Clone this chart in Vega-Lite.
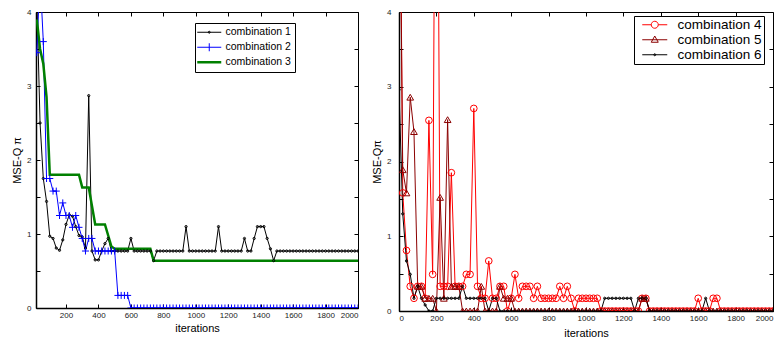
{
  "$schema": "https://vega.github.io/schema/vega-lite/v6.json",
  "padding": {"left": 11, "top": 7, "right": 0, "bottom": 0},
  "spacing": 12,
  "config": {
    "font": "Liberation Sans",
    "view": {"stroke": "black", "strokeWidth": 1},
    "axis": {"grid": false, "domainColor": "black", "domainWidth": 1.5, "tickColor": "black", "tickSize": -4, "labelFontSize": 8, "labelColor": "#222", "labelPadding": 8, "titleFontSize": 11, "titleFontWeight": "normal", "titleColor": "black", "format": "d"},
    "legend": {"strokeColor": "black", "fillColor": "white", "labelColor": "black", "symbolSize": 100}
  },
  "resolve": {"scale": {"color": "independent", "shape": "independent", "size": "independent", "x": "independent", "y": "independent"}, "legend": {"color": "independent"}},
  "datasets": {
    "left": [
      {"x":20,"combination 1":4.2,"combination 2":3.45,"combination 3":3.9},
      {"x":40,"combination 1":2.5,"combination 2":4.5,"combination 3":3.5},
      {"x":60,"combination 1":1.75,"combination 2":3.6,"combination 3":3.3},
      {"x":80,"combination 1":1.44,"combination 2":1.75,"combination 3":2.85},
      {"x":100,"combination 1":0.97,"combination 2":1.75,"combination 3":1.8},
      {"x":120,"combination 1":0.94,"combination 2":1.58,"combination 3":1.8},
      {"x":140,"combination 1":0.81,"combination 2":1.58,"combination 3":1.8},
      {"x":160,"combination 1":0.78,"combination 2":1.25,"combination 3":1.8},
      {"x":180,"combination 1":0.92,"combination 2":1.42,"combination 3":1.8},
      {"x":200,"combination 1":1.13,"combination 2":1.25,"combination 3":1.8},
      {"x":220,"combination 1":1.26,"combination 2":1.25,"combination 3":1.8},
      {"x":240,"combination 1":1.24,"combination 2":1.09,"combination 3":1.8},
      {"x":260,"combination 1":1.1,"combination 2":1.25,"combination 3":1.8},
      {"x":280,"combination 1":0.98,"combination 2":1.09,"combination 3":1.8},
      {"x":300,"combination 1":0.96,"combination 2":0.94,"combination 3":1.63},
      {"x":320,"combination 1":0.81,"combination 2":0.77,"combination 3":1.63},
      {"x":340,"combination 1":2.87,"combination 2":0.94,"combination 3":1.63},
      {"x":360,"combination 1":0.77,"combination 2":0.94,"combination 3":1.38},
      {"x":380,"combination 1":0.65,"combination 2":0.77,"combination 3":1.13},
      {"x":400,"combination 1":0.65,"combination 2":0.77,"combination 3":1.13},
      {"x":420,"combination 1":0.77,"combination 2":0.77,"combination 3":1.13},
      {"x":440,"combination 1":0.87,"combination 2":0.77,"combination 3":1.13},
      {"x":460,"combination 1":0.94,"combination 2":0.77,"combination 3":0.98},
      {"x":480,"combination 1":0.77,"combination 2":0.77,"combination 3":0.83},
      {"x":500,"combination 1":0.77,"combination 2":0.77,"combination 3":0.8},
      {"x":520,"combination 1":0.77,"combination 2":0.17,"combination 3":0.8},
      {"x":540,"combination 1":0.77,"combination 2":0.17,"combination 3":0.8},
      {"x":560,"combination 1":0.77,"combination 2":0.17,"combination 3":0.8},
      {"x":580,"combination 1":0.77,"combination 2":0.17,"combination 3":0.8},
      {"x":600,"combination 1":0.94,"combination 2":0,"combination 3":0.8},
      {"x":620,"combination 1":0.77,"combination 2":0,"combination 3":0.8},
      {"x":640,"combination 1":0.77,"combination 2":0,"combination 3":0.8},
      {"x":660,"combination 1":0.77,"combination 2":0,"combination 3":0.8},
      {"x":680,"combination 1":0.77,"combination 2":0,"combination 3":0.8},
      {"x":700,"combination 1":0.77,"combination 2":0,"combination 3":0.8},
      {"x":720,"combination 1":0.77,"combination 2":0,"combination 3":0.8},
      {"x":740,"combination 1":0.64,"combination 2":0,"combination 3":0.64},
      {"x":760,"combination 1":0.77,"combination 2":0,"combination 3":0.64},
      {"x":780,"combination 1":0.77,"combination 2":0,"combination 3":0.64},
      {"x":800,"combination 1":0.77,"combination 2":0,"combination 3":0.64},
      {"x":820,"combination 1":0.77,"combination 2":0,"combination 3":0.64},
      {"x":840,"combination 1":0.77,"combination 2":0,"combination 3":0.64},
      {"x":860,"combination 1":0.77,"combination 2":0,"combination 3":0.64},
      {"x":880,"combination 1":0.77,"combination 2":0,"combination 3":0.64},
      {"x":900,"combination 1":0.77,"combination 2":0,"combination 3":0.64},
      {"x":920,"combination 1":0.77,"combination 2":0,"combination 3":0.64},
      {"x":940,"combination 1":1.1,"combination 2":0,"combination 3":0.64},
      {"x":960,"combination 1":0.77,"combination 2":0,"combination 3":0.64},
      {"x":980,"combination 1":0.77,"combination 2":0,"combination 3":0.64},
      {"x":1000,"combination 1":0.77,"combination 2":0,"combination 3":0.64},
      {"x":1020,"combination 1":0.77,"combination 2":0,"combination 3":0.64},
      {"x":1040,"combination 1":0.77,"combination 2":0,"combination 3":0.64},
      {"x":1060,"combination 1":0.77,"combination 2":0,"combination 3":0.64},
      {"x":1080,"combination 1":0.77,"combination 2":0,"combination 3":0.64},
      {"x":1100,"combination 1":0.77,"combination 2":0,"combination 3":0.64},
      {"x":1120,"combination 1":0.77,"combination 2":0,"combination 3":0.64},
      {"x":1140,"combination 1":1.1,"combination 2":0,"combination 3":0.64},
      {"x":1160,"combination 1":0.77,"combination 2":0,"combination 3":0.64},
      {"x":1180,"combination 1":0.77,"combination 2":0,"combination 3":0.64},
      {"x":1200,"combination 1":0.77,"combination 2":0,"combination 3":0.64},
      {"x":1220,"combination 1":0.77,"combination 2":0,"combination 3":0.64},
      {"x":1240,"combination 1":0.77,"combination 2":0,"combination 3":0.64},
      {"x":1260,"combination 1":0.77,"combination 2":0,"combination 3":0.64},
      {"x":1280,"combination 1":0.77,"combination 2":0,"combination 3":0.64},
      {"x":1300,"combination 1":0.94,"combination 2":0,"combination 3":0.64},
      {"x":1320,"combination 1":0.77,"combination 2":0,"combination 3":0.64},
      {"x":1340,"combination 1":0.77,"combination 2":0,"combination 3":0.64},
      {"x":1360,"combination 1":0.94,"combination 2":0,"combination 3":0.64},
      {"x":1380,"combination 1":1.1,"combination 2":0,"combination 3":0.64},
      {"x":1400,"combination 1":1.1,"combination 2":0,"combination 3":0.64},
      {"x":1420,"combination 1":1.1,"combination 2":0,"combination 3":0.64},
      {"x":1440,"combination 1":0.94,"combination 2":0,"combination 3":0.64},
      {"x":1460,"combination 1":0.8,"combination 2":0,"combination 3":0.64},
      {"x":1480,"combination 1":0.64,"combination 2":0,"combination 3":0.64},
      {"x":1500,"combination 1":0.77,"combination 2":0,"combination 3":0.64},
      {"x":1520,"combination 1":0.77,"combination 2":0,"combination 3":0.64},
      {"x":1540,"combination 1":0.77,"combination 2":0,"combination 3":0.64},
      {"x":1560,"combination 1":0.77,"combination 2":0,"combination 3":0.64},
      {"x":1580,"combination 1":0.77,"combination 2":0,"combination 3":0.64},
      {"x":1600,"combination 1":0.77,"combination 2":0,"combination 3":0.64},
      {"x":1620,"combination 1":0.77,"combination 2":0,"combination 3":0.64},
      {"x":1640,"combination 1":0.77,"combination 2":0,"combination 3":0.64},
      {"x":1660,"combination 1":0.77,"combination 2":0,"combination 3":0.64},
      {"x":1680,"combination 1":0.77,"combination 2":0,"combination 3":0.64},
      {"x":1700,"combination 1":0.77,"combination 2":0,"combination 3":0.64},
      {"x":1720,"combination 1":0.77,"combination 2":0,"combination 3":0.64},
      {"x":1740,"combination 1":0.77,"combination 2":0,"combination 3":0.64},
      {"x":1760,"combination 1":0.77,"combination 2":0,"combination 3":0.64},
      {"x":1780,"combination 1":0.77,"combination 2":0,"combination 3":0.64},
      {"x":1800,"combination 1":0.77,"combination 2":0,"combination 3":0.64},
      {"x":1820,"combination 1":0.77,"combination 2":0,"combination 3":0.64},
      {"x":1840,"combination 1":0.77,"combination 2":0,"combination 3":0.64},
      {"x":1860,"combination 1":0.77,"combination 2":0,"combination 3":0.64},
      {"x":1880,"combination 1":0.77,"combination 2":0,"combination 3":0.64},
      {"x":1900,"combination 1":0.77,"combination 2":0,"combination 3":0.64},
      {"x":1920,"combination 1":0.77,"combination 2":0,"combination 3":0.64},
      {"x":1940,"combination 1":0.77,"combination 2":0,"combination 3":0.64},
      {"x":1960,"combination 1":0.77,"combination 2":0,"combination 3":0.64},
      {"x":1980,"combination 1":0.77,"combination 2":0,"combination 3":0.64},
      {"x":2000,"combination 1":0.77,"combination 2":0,"combination 3":0.64}
    ],
    "right": [
      {"x":0,"combination 4":8,"combination 5":7,"combination 6":2.96},
      {"x":20,"combination 4":1.58,"combination 5":1.89,"combination 6":1.3},
      {"x":40,"combination 4":0.81,"combination 5":1.58,"combination 6":0.67},
      {"x":60,"combination 4":0.33,"combination 5":2.86,"combination 6":0.49},
      {"x":80,"combination 4":0.17,"combination 5":2.4,"combination 6":0.17},
      {"x":100,"combination 4":0.33,"combination 5":0.33,"combination 6":0.33},
      {"x":120,"combination 4":0.33,"combination 5":0.33,"combination 6":0.17},
      {"x":140,"combination 4":0.17,"combination 5":0.17,"combination 6":0.08},
      {"x":160,"combination 4":2.55,"combination 5":0.17,"combination 6":0},
      {"x":180,"combination 4":0.49,"combination 5":0.17,"combination 6":0},
      {"x":200,"combination 4":10,"combination 5":0,"combination 6":0.17},
      {"x":220,"combination 4":0.33,"combination 5":1.52,"combination 6":0.17},
      {"x":240,"combination 4":0.33,"combination 5":0.17,"combination 6":0.17},
      {"x":260,"combination 4":0.33,"combination 5":2.56,"combination 6":0.17},
      {"x":280,"combination 4":1.85,"combination 5":0.33,"combination 6":0.17},
      {"x":300,"combination 4":0.33,"combination 5":0.33,"combination 6":0.17},
      {"x":320,"combination 4":0.33,"combination 5":0.33,"combination 6":0.17},
      {"x":340,"combination 4":0.33,"combination 5":0,"combination 6":0.33},
      {"x":360,"combination 4":0.49,"combination 5":0,"combination 6":0.17},
      {"x":380,"combination 4":0.49,"combination 5":0,"combination 6":0.17},
      {"x":400,"combination 4":2.71,"combination 5":0,"combination 6":0.17},
      {"x":420,"combination 4":0.33,"combination 5":0,"combination 6":0.17},
      {"x":440,"combination 4":0.17,"combination 5":0.33,"combination 6":0.17},
      {"x":460,"combination 4":0.17,"combination 5":0,"combination 6":0.17},
      {"x":480,"combination 4":0.67,"combination 5":0,"combination 6":0},
      {"x":500,"combination 4":0.17,"combination 5":0,"combination 6":0.17},
      {"x":520,"combination 4":0.17,"combination 5":0,"combination 6":0.17},
      {"x":540,"combination 4":0.33,"combination 5":0.33,"combination 6":0},
      {"x":560,"combination 4":0.33,"combination 5":0.17,"combination 6":0},
      {"x":580,"combination 4":0,"combination 5":0.17,"combination 6":0},
      {"x":600,"combination 4":0.17,"combination 5":0.17,"combination 6":0},
      {"x":620,"combination 4":0.49,"combination 5":0,"combination 6":0},
      {"x":640,"combination 4":0.17,"combination 5":0,"combination 6":0},
      {"x":660,"combination 4":0.33,"combination 5":0,"combination 6":0},
      {"x":680,"combination 4":0.33,"combination 5":0,"combination 6":0},
      {"x":700,"combination 4":0.33,"combination 5":0,"combination 6":0},
      {"x":720,"combination 4":0.17,"combination 5":0,"combination 6":0},
      {"x":740,"combination 4":0.33,"combination 5":0,"combination 6":0},
      {"x":760,"combination 4":0.17,"combination 5":0,"combination 6":0},
      {"x":780,"combination 4":0.17,"combination 5":0,"combination 6":0},
      {"x":800,"combination 4":0.17,"combination 5":0,"combination 6":0},
      {"x":820,"combination 4":0.17,"combination 5":0,"combination 6":0},
      {"x":840,"combination 4":0.17,"combination 5":0,"combination 6":0},
      {"x":860,"combination 4":0.33,"combination 5":0,"combination 6":0},
      {"x":880,"combination 4":0.17,"combination 5":0,"combination 6":0},
      {"x":900,"combination 4":0.33,"combination 5":0,"combination 6":0},
      {"x":920,"combination 4":0.17,"combination 5":0,"combination 6":0},
      {"x":940,"combination 4":0,"combination 5":0,"combination 6":0},
      {"x":960,"combination 4":0.17,"combination 5":0,"combination 6":0},
      {"x":980,"combination 4":0.17,"combination 5":0,"combination 6":0},
      {"x":1000,"combination 4":0.17,"combination 5":0,"combination 6":0},
      {"x":1020,"combination 4":0.17,"combination 5":0,"combination 6":0},
      {"x":1040,"combination 4":0.17,"combination 5":0,"combination 6":0},
      {"x":1060,"combination 4":0.17,"combination 5":0,"combination 6":0},
      {"x":1080,"combination 4":0,"combination 5":0,"combination 6":0},
      {"x":1100,"combination 4":0,"combination 5":0,"combination 6":0.17},
      {"x":1120,"combination 4":0,"combination 5":0,"combination 6":0.17},
      {"x":1140,"combination 4":0,"combination 5":0,"combination 6":0.17},
      {"x":1160,"combination 4":0,"combination 5":0,"combination 6":0.17},
      {"x":1180,"combination 4":0,"combination 5":0,"combination 6":0.17},
      {"x":1200,"combination 4":0,"combination 5":0,"combination 6":0.17},
      {"x":1220,"combination 4":0,"combination 5":0,"combination 6":0.17},
      {"x":1240,"combination 4":0,"combination 5":0,"combination 6":0.17},
      {"x":1260,"combination 4":0,"combination 5":0,"combination 6":0},
      {"x":1280,"combination 4":0,"combination 5":0,"combination 6":0.17},
      {"x":1300,"combination 4":0.17,"combination 5":0.17,"combination 6":0.17},
      {"x":1320,"combination 4":0.17,"combination 5":0.17,"combination 6":0.17},
      {"x":1340,"combination 4":0,"combination 5":0,"combination 6":0},
      {"x":1360,"combination 4":0,"combination 5":0,"combination 6":0},
      {"x":1380,"combination 4":0,"combination 5":0,"combination 6":0},
      {"x":1400,"combination 4":0,"combination 5":0,"combination 6":0},
      {"x":1420,"combination 4":0,"combination 5":0,"combination 6":0},
      {"x":1440,"combination 4":0,"combination 5":0,"combination 6":0},
      {"x":1460,"combination 4":0,"combination 5":0,"combination 6":0},
      {"x":1480,"combination 4":0,"combination 5":0,"combination 6":0},
      {"x":1500,"combination 4":0,"combination 5":0,"combination 6":0},
      {"x":1520,"combination 4":0,"combination 5":0,"combination 6":0},
      {"x":1540,"combination 4":0,"combination 5":0,"combination 6":0},
      {"x":1560,"combination 4":0,"combination 5":0,"combination 6":0},
      {"x":1580,"combination 4":0,"combination 5":0,"combination 6":0},
      {"x":1600,"combination 4":0.17,"combination 5":0,"combination 6":0},
      {"x":1620,"combination 4":0,"combination 5":0,"combination 6":0},
      {"x":1640,"combination 4":0,"combination 5":0,"combination 6":0.17},
      {"x":1660,"combination 4":0,"combination 5":0,"combination 6":0},
      {"x":1680,"combination 4":0.17,"combination 5":0,"combination 6":0},
      {"x":1700,"combination 4":0.17,"combination 5":0,"combination 6":0},
      {"x":1720,"combination 4":0,"combination 5":0,"combination 6":0},
      {"x":1740,"combination 4":0,"combination 5":0,"combination 6":0},
      {"x":1760,"combination 4":0,"combination 5":0,"combination 6":0},
      {"x":1780,"combination 4":0,"combination 5":0,"combination 6":0},
      {"x":1800,"combination 4":0,"combination 5":0,"combination 6":0},
      {"x":1820,"combination 4":0,"combination 5":0,"combination 6":0},
      {"x":1840,"combination 4":0,"combination 5":0,"combination 6":0},
      {"x":1860,"combination 4":0,"combination 5":0,"combination 6":0},
      {"x":1880,"combination 4":0,"combination 5":0,"combination 6":0},
      {"x":1900,"combination 4":0,"combination 5":0,"combination 6":0},
      {"x":1920,"combination 4":0,"combination 5":0,"combination 6":0},
      {"x":1940,"combination 4":0,"combination 5":0,"combination 6":0},
      {"x":1960,"combination 4":0,"combination 5":0,"combination 6":0},
      {"x":1980,"combination 4":0,"combination 5":0,"combination 6":0},
      {"x":2000,"combination 4":0,"combination 5":0,"combination 6":0}
    ]
  },
  "hconcat": [
    {
      "width": 322,
      "height": 296,
      "data": {"name": "left"},
      "transform": [{"fold": ["combination 1", "combination 2", "combination 3"], "as": ["series", "y"]}],
      "layer": [
        {
          "transform": [{"filter": {"field": "series", "oneOf": ["combination 1", "combination 2"]}}],
          "mark": {"type": "line", "clip": true, "strokeWidth": 1},
          "encoding": {
            "x": {"field": "x", "type": "quantitative", "scale": {"domain": [15, 2000], "nice": false, "zero": false},
                  "axis": {"orient": "bottom", "values": [200,400,600,800,1000,1200,1400,1600,1800,2000], "title": "iterations", "titlePadding": 3, "labelPadding": 7}},
            "y": {"field": "y", "type": "quantitative", "scale": {"domain": [0, 4], "nice": false},
                  "axis": {"orient": "left", "values": [0,0.5,1,1.5,2,2.5,3,3.5,4], "labelExpr": "datum.value % 1 === 0 ? format(datum.value, 'd') : ''", "title": "MSE-Q π", "titlePadding": 4, "labelPadding": 9}},
            "color": {"field": "series", "type": "nominal",
                      "scale": {"domain": ["combination 1", "combination 2", "combination 3"], "range": ["#000000", "#0000ff", "#008000"]},
                      "legend": {"title": null, "orient": "none", "legendX": 159, "legendY": 11, "labelFontSize": 10.5, "padding": 4, "rowPadding": 3, "symbolOffset": 5, "labelOffset": 11,
                        "encode": {"symbols": {"update": {
                          "shape": {"signal": "datum.value === 'combination 1' ? 'M-2.4,0H2.4M-0.2,0A0.2,0.2 0 1,0 0.2,0A0.2,0.2 0 1,0 -0.2,0' : datum.value === 'combination 2' ? 'M-2.4,0H2.4M0,-0.8V0.8' : 'M-2.4,0H2.4'"},
                          "strokeWidth": {"signal": "datum.value === 'combination 3' ? 2.5 : 1"},
                          "fill": {"value": "transparent"},
                          "opacity": {"value": 1}}}}}}
          }
        },
        {
          "transform": [{"filter": {"field": "series", "equal": "combination 3"}}],
          "mark": {"type": "line", "clip": true, "strokeWidth": 2.5},
          "encoding": {
            "x": {"field": "x", "type": "quantitative", "axis": null},
            "y": {"field": "y", "type": "quantitative", "axis": null},
            "color": {"field": "series", "type": "nominal"}
          }
        },
        {
          "transform": [{"filter": {"field": "series", "oneOf": ["combination 1", "combination 2"]}}],
          "mark": {"type": "point", "clip": true, "filled": false, "opacity": 1, "strokeWidth": 1},
          "encoding": {
            "x": {"field": "x", "type": "quantitative", "axis": {"orient": "top", "values": [200,400,600,800,1000,1200,1400,1600,1800,2000], "labels": false, "title": null, "domain": false}},
            "y": {"field": "y", "type": "quantitative", "axis": {"orient": "right", "values": [0,0.5,1,1.5,2,2.5,3,3.5,4], "labels": false, "title": null, "domain": false}},
            "color": {"field": "series", "type": "nominal"},
            "shape": {"field": "series", "type": "nominal", "scale": {"domain": ["combination 1", "combination 2"], "range": ["circle", "M-1,0H1M0,-1V1"]}, "legend": null},
            "size": {"field": "series", "type": "nominal", "scale": {"domain": ["combination 1", "combination 2"], "range": [5, 49]}, "legend": null}
          }
        }
      ],
      "resolve": {"axis": {"x": "independent", "y": "independent"}}
    },
    {
      "width": 374,
      "height": 299,
      "data": {"name": "right"},
      "transform": [{"fold": ["combination 4", "combination 5", "combination 6"], "as": ["series", "y"]}],
      "layer": [
        {
          "mark": {"type": "line", "clip": true, "strokeWidth": 1},
          "encoding": {
            "x": {"field": "x", "type": "quantitative", "scale": {"domain": [0, 2000], "nice": false},
                  "axis": {"orient": "bottom", "values": [0,200,400,600,800,1000,1200,1400,1600,1800,2000], "labelFlush": true, "title": "iterations", "titlePadding": 5, "labelPadding": 7}},
            "y": {"field": "y", "type": "quantitative", "scale": {"domain": [0, 4], "nice": false},
                  "axis": {"orient": "left", "values": [0,0.5,1,1.5,2,2.5,3,3.5,4], "labelExpr": "datum.value % 1 === 0 ? format(datum.value, 'd') : ''", "title": "MSE-Qπ", "titlePadding": 4, "labelPadding": 12}},
            "color": {"field": "series", "type": "nominal",
                      "scale": {"domain": ["combination 4", "combination 5", "combination 6"], "range": ["#ff0000", "#8b0000", "#000000"]},
                      "legend": {"title": null, "orient": "none", "legendX": 235, "legendY": 4, "labelFontSize": 13.5, "padding": 2, "rowPadding": 0, "symbolOffset": 12, "labelOffset": 16,
                        "encode": {"symbols": {"update": {
                          "shape": {"signal": "datum.value === 'combination 4' ? 'M-2.5,0H-0.7M0.7,0H2.5M-0.7,0A0.7,0.7 0 1,0 0.7,0A0.7,0.7 0 1,0 -0.7,0' : datum.value === 'combination 5' ? 'M-2.5,0H2.5M0,-0.75L0.7,0.5L-0.7,0.5Z' : 'M-2.5,0H2.5M-0.2,0A0.2,0.2 0 1,0 0.2,0A0.2,0.2 0 1,0 -0.2,0'"},
                          "strokeWidth": {"value": 1},
                          "fill": {"value": "transparent"},
                          "opacity": {"value": 1}}}}}}
          }
        },
        {
          "transform": [{"filter": {"field": "series", "equal": "combination 4"}}],
          "mark": {"type": "point", "clip": true, "filled": false, "opacity": 1, "strokeWidth": 1, "shape": "circle", "size": 45},
          "encoding": {
            "x": {"field": "x", "type": "quantitative", "axis": {"orient": "top", "values": [200,400,600,800,1000,1200,1400,1600,1800], "labels": false, "title": null, "domain": false}},
            "y": {"field": "y", "type": "quantitative", "axis": {"orient": "right", "values": [0,0.5,1,1.5,2,2.5,3,3.5,4], "labels": false, "title": null, "domain": false}},
            "color": {"field": "series", "type": "nominal"}
          }
        },
        {
          "transform": [{"filter": {"field": "series", "equal": "combination 5"}}],
          "mark": {"type": "point", "clip": true, "filled": false, "opacity": 1, "strokeWidth": 1, "shape": "triangle-up", "size": 45},
          "encoding": {
            "x": {"field": "x", "type": "quantitative", "axis": null},
            "y": {"field": "y", "type": "quantitative", "axis": null},
            "color": {"field": "series", "type": "nominal"}
          }
        },
        {
          "transform": [{"filter": {"field": "series", "equal": "combination 6"}}],
          "mark": {"type": "point", "clip": true, "filled": false, "opacity": 1, "strokeWidth": 1, "shape": "circle", "size": 5},
          "encoding": {
            "x": {"field": "x", "type": "quantitative", "axis": null},
            "y": {"field": "y", "type": "quantitative", "axis": null},
            "color": {"field": "series", "type": "nominal"}
          }
        }
      ],
      "resolve": {"axis": {"x": "independent", "y": "independent"}}
    }
  ]
}
